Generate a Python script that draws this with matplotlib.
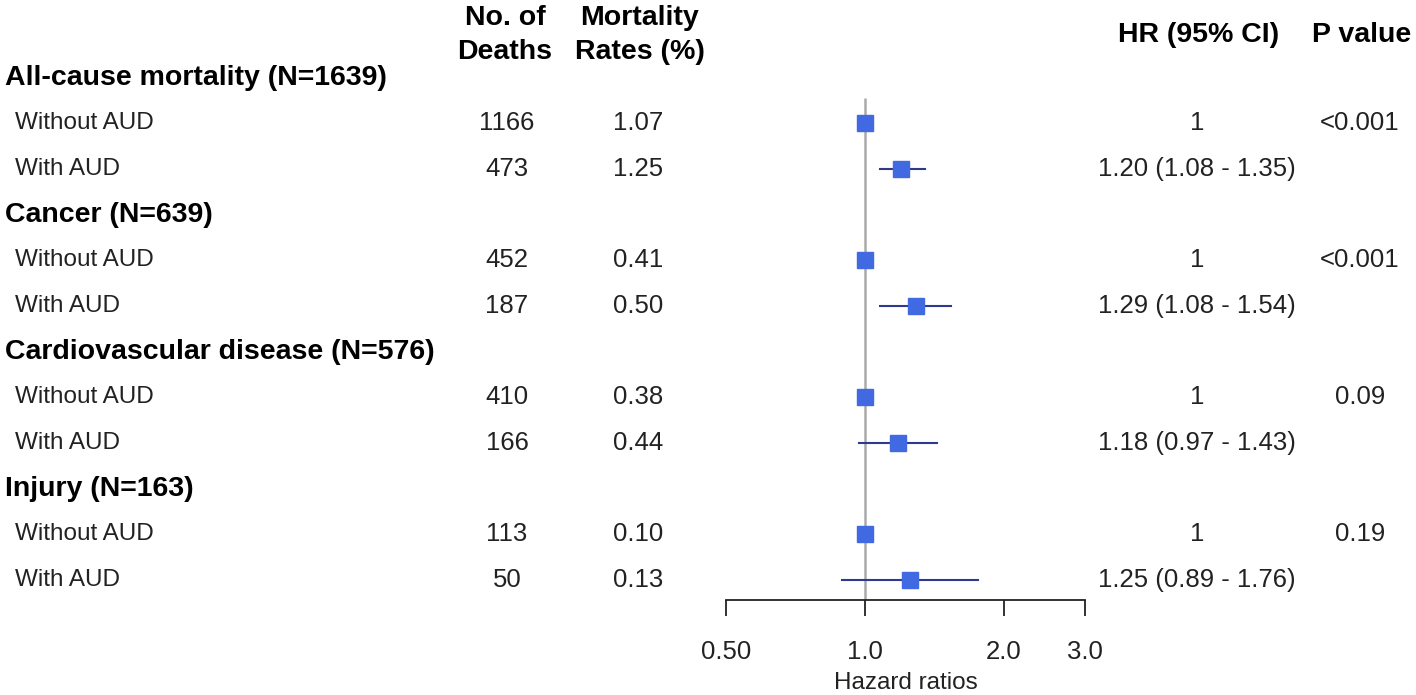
import numpy as np
import matplotlib
matplotlib.use("Agg")
import matplotlib.pyplot as plt
import matplotlib.transforms as mtransforms

plt.rcParams['font.family'] = ['Liberation Sans', 'DejaVu Sans']

groups = ['All-cause mortality (N=1639)', 'Cancer (N=639)',
          'Cardiovascular disease (N=576)', 'Injury (N=163)']
sub_labels = ['Without AUD', 'With AUD']
deaths_without = [1166, 452, 410, 113]
deaths_with = [473, 187, 166, 50]
rate_without = ['1.07', '0.41', '0.38', '0.10']
rate_with = ['1.25', '0.50', '0.44', '0.13']
hr_without = [1.0, 1.0, 1.0, 1.0]
hr_with = [1.20, 1.29, 1.18, 1.25]
ci_low = [1.08, 1.08, 0.97, 0.89]
ci_high = [1.35, 1.54, 1.43, 1.76]
p_values = ['<0.001', '<0.001', '0.09', '0.19']
xticks = [0.5, 1.0, 2.0, 3.0]
xtick_labels = ['0.50', '1.0', '2.0', '3.0']

W, H = 1416, 695
fig = plt.figure(figsize=(W / 100, H / 100), dpi=100)

# axes spans the hazard-ratio scale (pixels 726..1085, rows top 55 .. axis 600)
ax = fig.add_axes([726 / W, (H - 600) / H, (1085 - 726) / W, (600 - 55) / H])
ax.set_xscale('log')
ax.set_xlim(0.5, 3.0)
ax.set_ylim(11.44, -0.5)

fs = 17.5      # row labels
fs_n = 18.5    # numbers
fs_b = 20.5    # bold headers
blue = '#4169E1'
navy = '#2E3A8C'
txt = '#222222'

ax.vlines(1.0, 0.45, 11.44, color='#AAAAAA', lw=1.8, zorder=1)

trans = mtransforms.blended_transform_factory(fig.transFigure, ax.transData)
for i, g in enumerate(groups):
    r0 = i * 3
    r1, r2 = r0 + 1, r0 + 2
    ax.text(5 / W, r0, g, transform=trans, fontsize=fs_b, fontweight='bold',
            ha='left', va='center', clip_on=False)
    for r, lab, d, rate, hr in [(r1, sub_labels[0], deaths_without[i], rate_without[i], '1'),
                                (r2, sub_labels[1], deaths_with[i], rate_with[i],
                                 f'{hr_with[i]:.2f} ({ci_low[i]:.2f} - {ci_high[i]:.2f})')]:
        ax.text(15 / W, r, lab, transform=trans, fontsize=fs, ha='left', va='center', color=txt)
        ax.text(507 / W, r, str(d), transform=trans, fontsize=fs_n, ha='center', va='center', color=txt)
        ax.text(638 / W, r, rate, transform=trans, fontsize=fs_n, ha='center', va='center', color=txt)
        ax.text(1197 / W, r, hr, transform=trans, fontsize=fs_n, ha='center', va='center', color=txt)
    ax.text(1360 / W, r1, p_values[i], transform=trans, fontsize=fs_n, ha='center', va='center', color=txt)

    ax.plot([ci_low[i], ci_high[i]], [r2, r2], color=navy, lw=1.5, zorder=2)
    ax.plot([hr_without[i]], [r1], 's', color=blue, ms=11.5, zorder=3)
    ax.plot([hr_with[i]], [r2], 's', color=blue, ms=11.5, zorder=3)

# column headers
fig.text(505 / W, 1 - 18 / H, 'No. of', fontsize=fs_b, fontweight='bold', ha='center', va='center')
fig.text(505 / W, 1 - 52 / H, 'Deaths', fontsize=fs_b, fontweight='bold', ha='center', va='center')
fig.text(640 / W, 1 - 18 / H, 'Mortality', fontsize=fs_b, fontweight='bold', ha='center', va='center')
fig.text(640 / W, 1 - 52 / H, 'Rates (%)', fontsize=fs_b, fontweight='bold', ha='center', va='center')
fig.text(1199 / W, 1 - 35 / H, 'HR (95% CI)', fontsize=fs_b, fontweight='bold', ha='center', va='center')
fig.text(1362 / W, 1 - 35 / H, 'P value', fontsize=fs_b, fontweight='bold', ha='center', va='center')

for s in ['top', 'right', 'left']:
    ax.spines[s].set_visible(False)
ax.spines['bottom'].set_linewidth(1.3)
ax.spines['bottom'].set_color(txt)
ax.set_yticks([])
ax.set_xticks(xticks)
ax.set_xticklabels(xtick_labels)
ax.xaxis.set_minor_locator(matplotlib.ticker.NullLocator())
ax.tick_params(axis='x', direction='out', length=11.5, width=1.3, color=txt,
               pad=17, labelsize=fs_n, labelcolor=txt)
ax.set_xlabel('Hazard ratios', fontsize=fs, color=txt, labelpad=6)
ax.patch.set_visible(False)

fig.savefig('out.png', dpi=100)
